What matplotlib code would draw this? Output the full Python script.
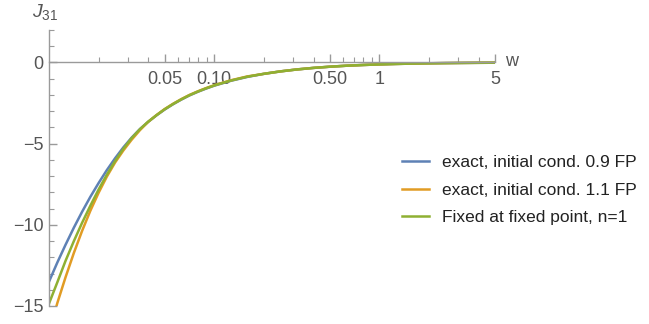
import numpy as np
import matplotlib
matplotlib.use("Agg")
import matplotlib.pyplot as plt
from matplotlib.ticker import FixedLocator, NullFormatter

plt.rcParams["font.family"] = "Liberation Sans"
plt.rcParams["mathtext.fontset"] = "custom"
plt.rcParams["mathtext.rm"] = "Liberation Sans"
plt.rcParams["mathtext.it"] = "Liberation Sans:italic"

# values (w on a log axis)
w_upper = [0.0355, 0.0398, 0.0447, 0.0501, 0.0562, 0.0631, 0.0708, 0.0794, 0.0891, 0.1,
           0.1259, 0.1585, 0.1995, 0.2512, 0.3162, 0.3981, 0.5012, 0.631, 0.794, 1.0,
           1.259, 1.585, 1.995, 2.512, 3.162, 3.981, 5.0]
J_upper = [-4.10, -3.66, -3.26, -2.90, -2.58, -2.29, -2.03, -1.81, -1.61, -1.43,
           -1.13, -0.89, -0.70, -0.55, -0.43, -0.335, -0.26, -0.20, -0.155, -0.118,
           -0.09, -0.068, -0.051, -0.038, -0.028, -0.020, -0.015]

w_blue = [0.01, 0.01122, 0.01259, 0.01413, 0.01585, 0.01778, 0.01995, 0.02239, 0.02512,
          0.02818, 0.03162] + w_upper
J_blue = [-13.50, -12.33, -11.23, -10.18, -9.20, -8.28, -7.43, -6.63, -5.90,
          -5.23, -4.63] + J_upper

w_orange = [0.0111, 0.01122, 0.01259, 0.01413, 0.01585, 0.01778, 0.01995, 0.02239, 0.02512,
            0.02818, 0.03162, 0.0355, 0.0398, 0.0447] + w_upper[3:]
J_orange = [-15.00, -14.83, -13.23, -11.74, -10.38, -9.14, -8.03, -7.03, -6.16,
            -5.42, -4.76, -4.17, -3.66, -3.24] + [j + 0.03 for j in J_upper[3:12]] + J_upper[12:]

w_green = [0.01, 0.01122, 0.01259, 0.01413, 0.01585, 0.01778, 0.01995, 0.02239, 0.02512,
           0.02818, 0.03162, 0.0355, 0.0398, 0.0447] + w_upper[3:]
J_green = [-14.85, -13.55, -12.22, -11.01, -9.88, -8.83, -7.83, -6.91, -6.07,
           -5.32, -4.66, -4.11, -3.65, -3.25] + [j + 0.015 for j in J_upper[3:12]] + J_upper[12:]

labels = ["exact, initial cond. 0.9 FP", "exact, initial cond. 1.1 FP", "Fixed at fixed point, n=1"]
colors = ["#5E81B5", "#E19C24", "#8FB032"]

x_major = [0.05, 0.1, 0.5, 1, 5]
x_major_labels = ["0.05", "0.10", "0.50", "1", "5"]
x_minor = [0.02, 0.03, 0.04, 0.06, 0.07, 0.08, 0.09, 0.2, 0.3, 0.4, 0.6, 0.7, 0.8, 0.9, 2, 3, 4]
y_major = [0, -5, -10, -15]
y_minor = [2, 1, -1, -2, -3, -4, -6, -7, -8, -9, -11, -12, -13, -14]

axis_col = "#9a9a9a"
text_col = "#555555"

fig = plt.figure(figsize=(6.49, 3.24), dpi=100)
ax = fig.add_axes([49 / 649, 1 - 306 / 324, (495 - 49) / 649, (306 - 30) / 324])

ax.plot(w_blue, J_blue, color=colors[0], lw=1.8, label=labels[0])
ax.plot(w_orange, J_orange, color=colors[1], lw=1.8, label=labels[1])
ax.plot(w_green, J_green, color=colors[2], lw=1.8, label=labels[2])

ax.set_xscale("log")
ax.set_xlim(0.01, 5)
ax.set_ylim(-15, 2)

ax.spines["top"].set_visible(False)
ax.spines["right"].set_visible(False)
ax.spines["bottom"].set_position(("data", 0))
for s in ["left", "bottom"]:
    ax.spines[s].set_color(axis_col)
    ax.spines[s].set_linewidth(1.0)

ax.xaxis.set_major_locator(FixedLocator(x_major))
ax.set_xticklabels(x_major_labels)
ax.xaxis.set_minor_locator(FixedLocator(x_minor))
ax.xaxis.set_minor_formatter(NullFormatter())
ax.yaxis.set_major_locator(FixedLocator(y_major))
ax.yaxis.set_minor_locator(FixedLocator(y_minor))

ax.tick_params(which="both", direction="in", color=axis_col, labelcolor=text_col, labelsize=13)
ax.tick_params(which="major", length=6, width=1.0)
ax.tick_params(which="minor", length=3.5, width=0.8)
ax.tick_params(axis="x", pad=6)
ax.tick_params(axis="y", pad=4)

fig.text(45 / 649, 1 - 12 / 324, r"$J_{31}$", fontsize=14, color=text_col, ha="center", va="center")
fig.text(512 / 649, 1 - 62 / 324, "w", fontsize=13, color=text_col, ha="center", va="center")

leg = fig.legend(loc="center left", bbox_to_anchor=(386 / 649, 1 - 190 / 324), frameon=False,
                 fontsize=12.5, handlelength=1.6, handletextpad=0.7, labelspacing=0.72)
for t in leg.get_texts():
    t.set_color("#222222")

fig.savefig("out.png", dpi=100)
